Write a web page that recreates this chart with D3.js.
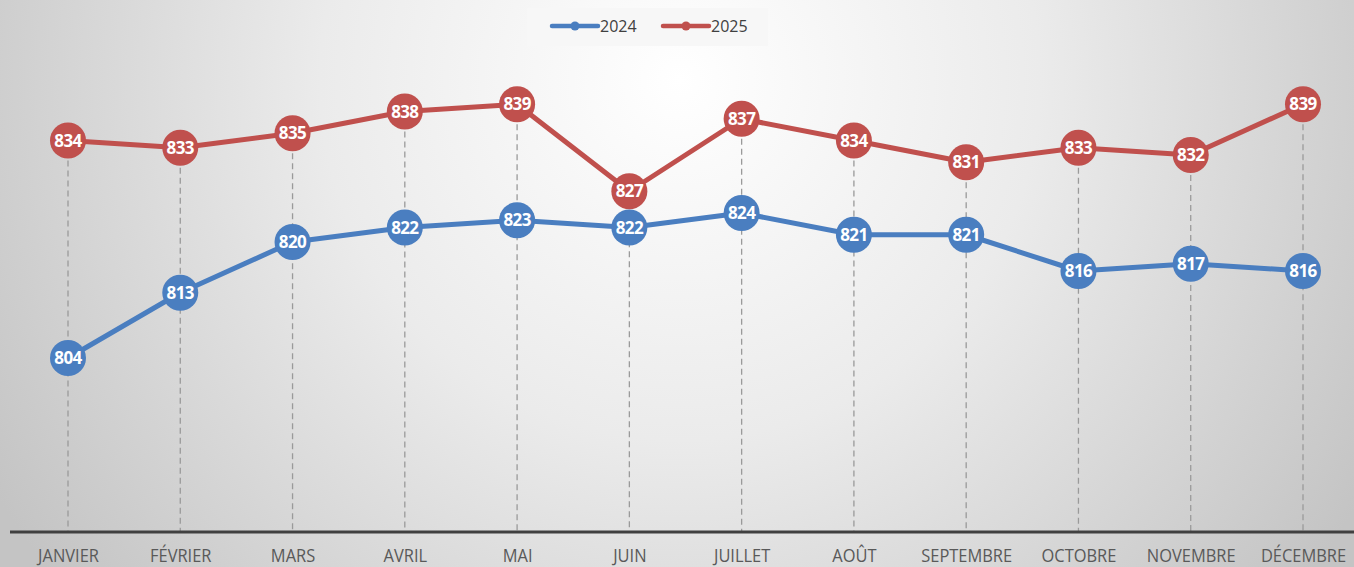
<!DOCTYPE html>
<html>
<head>
<meta charset="utf-8">
<script src="https://cdn.jsdelivr.net/npm/d3@7"></script>
<style>
  html, body { margin: 0; padding: 0; overflow: hidden; }
  #chart { width: 1354px; height: 567px; }
</style>
</head>
<body>
<div id="chart"></div>
<script>
// Chart data
const months = ["JANVIER", "FÉVRIER", "MARS", "AVRIL", "MAI", "JUIN",
    "JUILLET", "AOÛT", "SEPTEMBRE", "OCTOBRE", "NOVEMBRE", "DÉCEMBRE"];
const values2024 = [804, 813, 820, 822, 823, 822, 824, 821, 821, 816, 817, 816];
const values2025 = [834, 833, 835, 838, 839, 827, 837, 834, 831, 833, 832, 839];
const seriesNames = ["2024", "2025"];
const seriesColors = ["#4a7ec0", "#c0504d"];

document.addEventListener('DOMContentLoaded', function() {
    const width = 1354, height = 567;

    const svg = d3.select("#chart")
        .append("svg")
        .attr("width", width)
        .attr("height", height);

    // background: soft radial gradient, white near top centre
    const defs = svg.append("defs");
    const grad = defs.append("radialGradient")
        .attr("id", "bg")
        .attr("gradientUnits", "userSpaceOnUse")
        .attr("cx", 680).attr("cy", 80).attr("r", 800);
    grad.append("stop").attr("offset", "0%").attr("stop-color", "#ffffff");
    grad.append("stop").attr("offset", "45%").attr("stop-color", "#ebebeb");
    grad.append("stop").attr("offset", "100%").attr("stop-color", "#c4c4c4");
    svg.append("rect")
        .attr("width", width).attr("height", height)
        .attr("fill", "url(#bg)");

    // Scales
    const xScale = d3.scalePoint()
        .domain(months)
        .range([68, 1303]);

    const yScale = d3.scaleLinear()
        .domain([780, 840])
        .range([532, 97]);

    const series = [values2024, values2025].map((vals, i) => ({
        name: seriesNames[i],
        color: seriesColors[i],
        points: months.map((m, j) => ({ month: m, value: vals[j] }))
    }));

    // Dashed drop lines from the highest marker down to the axis
    svg.append("g").selectAll("line")
        .data(months)
        .enter().append("line")
        .attr("x1", d => xScale(d))
        .attr("x2", d => xScale(d))
        .attr("y1", (d, j) => yScale(Math.max(values2024[j], values2025[j])))
        .attr("y2", yScale(780))
        .attr("stroke", "#9a9a9a")
        .attr("stroke-width", 1.3)
        .attr("stroke-dasharray", "6,4");

    // x axis
    const xAxis = svg.append("g")
        .attr("transform", `translate(0,${yScale(780)})`)
        .call(d3.axisBottom(xScale).tickSize(0).tickPadding(18));
    xAxis.select(".domain").remove();
    xAxis.append("line")
        .attr("x1", 10).attr("x2", width)
        .attr("stroke", "#404040")
        .attr("stroke-width", 3);
    xAxis.selectAll("text")
        .attr("fill", "#595959")
        .style("font-family", "'Open Sans', sans-serif")
        .style("font-size", "17.5px")
        .attr("transform", "scale(0.94,1)");

    // Lines
    const line = d3.line()
        .x(d => xScale(d.month))
        .y(d => yScale(d.value));

    series.forEach(s => {
        svg.append("path")
            .datum(s.points)
            .attr("fill", "none")
            .attr("stroke", s.color)
            .attr("stroke-width", 5)
            .attr("stroke-linejoin", "round")
            .attr("d", line);
    });

    // Markers + labels
    series.forEach(s => {
        const g = svg.append("g");
        g.selectAll("circle")
            .data(s.points)
            .enter().append("circle")
            .attr("cx", d => xScale(d.month))
            .attr("cy", d => yScale(d.value))
            .attr("r", 18)
            .attr("fill", s.color);
        g.selectAll("text")
            .data(s.points)
            .enter().append("text")
            .attr("x", d => xScale(d.month))
            .attr("y", d => yScale(d.value) + 6)
            .attr("text-anchor", "middle")
            .attr("fill", "#ffffff")
            .style("font-family", "'Open Sans', sans-serif")
            .style("font-weight", "bold")
            .style("font-size", "17px")
            .style("letter-spacing", "-0.6px")
            .text(d => d.value);
    });

    // Legend
    const legend = svg.append("g");
    legend.append("rect")
        .attr("x", 527).attr("y", 8)
        .attr("width", 241).attr("height", 38)
        .attr("fill", "#f7f7f7");
    const legendX = [552, 663];
    series.forEach((s, i) => {
        const lx = legendX[i];
        legend.append("line")
            .attr("x1", lx).attr("x2", lx + 46)
            .attr("y1", 26).attr("y2", 26)
            .attr("stroke", s.color)
            .attr("stroke-width", 4.5)
            .attr("stroke-linecap", "round");
        legend.append("circle")
            .attr("cx", lx + 23).attr("cy", 26).attr("r", 4.5)
            .attr("fill", s.color);
        legend.append("text")
            .attr("x", lx + 48).attr("y", 32)
            .attr("fill", "#404040")
            .style("font-family", "'Open Sans', sans-serif")
            .style("font-size", "16px")
            .text(s.name);
    });
});
</script>
</body>
</html>
